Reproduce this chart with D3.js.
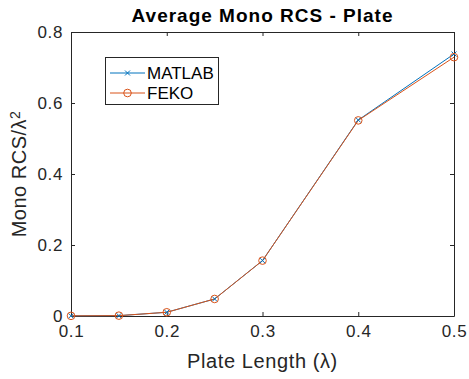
<!DOCTYPE html>
<html>
<head>
<meta charset="utf-8">
<script src="https://cdn.jsdelivr.net/npm/d3@7"></script>
<style>
  html, body { margin: 0; padding: 0; background: #fff; }
  svg { display: block; font-family: "Liberation Sans", Arial, Helvetica, sans-serif; }
</style>
</head>
<body>
<svg id="chart" width="469" height="379"></svg>
<script>
const plateLength = [0.1, 0.15, 0.2, 0.25, 0.3, 0.4, 0.5];
const matlabRCS = [0.0005, 0.001, 0.0105, 0.048, 0.156, 0.552, 0.738];
const fekoRCS   = [0.0004, 0.001, 0.0105, 0.048, 0.156, 0.551, 0.729];
const xTicks = [0.1, 0.2, 0.3, 0.4, 0.5];
const yTicks = [0, 0.2, 0.4, 0.6, 0.8];
const seriesNames = ["MATLAB", "FEKO"];
const seriesColors = ["#0072BD", "#D95319"];

const svg = d3.select("#chart");
const margin = {left: 71, right: 15, top: 32, bottom: 63};
const W = 469, H = 379;
const x = d3.scaleLinear().domain([0.1, 0.5]).range([margin.left, W - margin.right]);
const y = d3.scaleLinear().domain([0, 0.8]).range([H - margin.bottom, margin.top]);
const axisColor = "#262626";
const fmt = d => d === 0 ? "0" : d3.format(".1f")(d);

// axes with inward ticks
const gx = svg.append("g").attr("transform", `translate(0,${y(0)})`)
  .call(d3.axisBottom(x).tickValues(xTicks).tickSizeInner(-4).tickSizeOuter(0).tickPadding(9).tickFormat(fmt));
const gxt = svg.append("g").attr("transform", `translate(0,${y(0.8)})`)
  .call(d3.axisTop(x).tickValues(xTicks).tickSizeInner(-4).tickSizeOuter(0).tickFormat(""));
const gy = svg.append("g").attr("transform", `translate(${x(0.1)},0)`)
  .call(d3.axisLeft(y).tickValues(yTicks).tickSizeInner(-4).tickSizeOuter(0).tickPadding(8).tickFormat(fmt));
const gyr = svg.append("g").attr("transform", `translate(${x(0.5)},0)`)
  .call(d3.axisRight(y).tickValues(yTicks).tickSizeInner(-4).tickSizeOuter(0).tickFormat(""));
[gx, gxt, gy, gyr].forEach(g => {
  g.selectAll("path.domain").attr("stroke", axisColor).attr("stroke-width", 1);
  g.selectAll(".tick line").attr("stroke", axisColor);
  g.selectAll("text").attr("fill", axisColor).style("font-size", "17px")
    .style("letter-spacing", "0.6px").style("font-family", "'Liberation Sans', Arial, sans-serif");
});

// lines
const data = [matlabRCS, fekoRCS];
const line = d3.line().x((d, i) => x(plateLength[i])).y(d => y(d));
data.forEach((vals, k) => {
  svg.append("path").datum(vals).attr("d", line)
    .attr("fill", "none").attr("stroke", seriesColors[k]).attr("stroke-width", 1);
});
// markers
const crossPath = s => `M${-s},${-s}L${s},${s}M${-s},${s}L${s},${-s}`;
svg.append("g").selectAll("path").data(matlabRCS).join("path")
  .attr("transform", (d, i) => `translate(${x(plateLength[i])},${y(d)})`)
  .attr("d", crossPath(2.5)).attr("stroke", seriesColors[0]).attr("stroke-width", 1).attr("fill", "none");
svg.append("g").selectAll("circle").data(fekoRCS).join("circle")
  .attr("cx", (d, i) => x(plateLength[i])).attr("cy", d => y(d)).attr("r", 3.8)
  .attr("stroke", seriesColors[1]).attr("stroke-width", 1).attr("fill", "none");

// legend
const lg = svg.append("g");
lg.append("rect").attr("x", 105.5).attr("y", 57.5).attr("width", 113).attr("height", 47)
  .attr("fill", "#fff").attr("stroke", axisColor).attr("stroke-width", 1);
seriesNames.forEach((name, k) => {
  const yy = 73 + k * 20;
  lg.append("line").attr("x1", 110).attr("x2", 145).attr("y1", yy).attr("y2", yy)
    .attr("stroke", seriesColors[k]).attr("stroke-width", 1);
  if (k === 0) {
    lg.append("path").attr("transform", `translate(127.5,${yy})`).attr("d", crossPath(2.5))
      .attr("stroke", seriesColors[k]).attr("fill", "none");
  } else {
    lg.append("circle").attr("cx", 127.5).attr("cy", yy).attr("r", 3.8)
      .attr("stroke", seriesColors[k]).attr("fill", "none");
  }
  lg.append("text").attr("x", 147).attr("y", yy).attr("dy", "0.35em")
    .attr("fill", "#000").style("font-size", "17px").text(name);
});

// title
svg.append("text").attr("x", (x(0.1) + x(0.5)) / 2).attr("y", 22).attr("text-anchor", "middle")
  .attr("fill", "#000").style("font-size", "19px").style("font-weight", "bold").style("letter-spacing", "1px")
  .text("Average Mono RCS - Plate");
// x label
svg.append("text").attr("x", (x(0.1) + x(0.5)) / 2).attr("y", 368).attr("text-anchor", "middle")
  .attr("fill", axisColor).style("font-size", "20px").style("letter-spacing", "0.6px").text("Plate Length (λ)");
// y label
const yl = svg.append("text").attr("transform", `translate(26,${(y(0) + y(0.8)) / 2}) rotate(-90)`)
  .attr("text-anchor", "middle").attr("fill", axisColor).style("font-size", "20px").style("letter-spacing", "0.5px");
yl.append("tspan").text("Mono RCS/λ");
yl.append("tspan").attr("dy", "-0.45em").style("font-size", "14px").text("2");
</script>
</body>
</html>
